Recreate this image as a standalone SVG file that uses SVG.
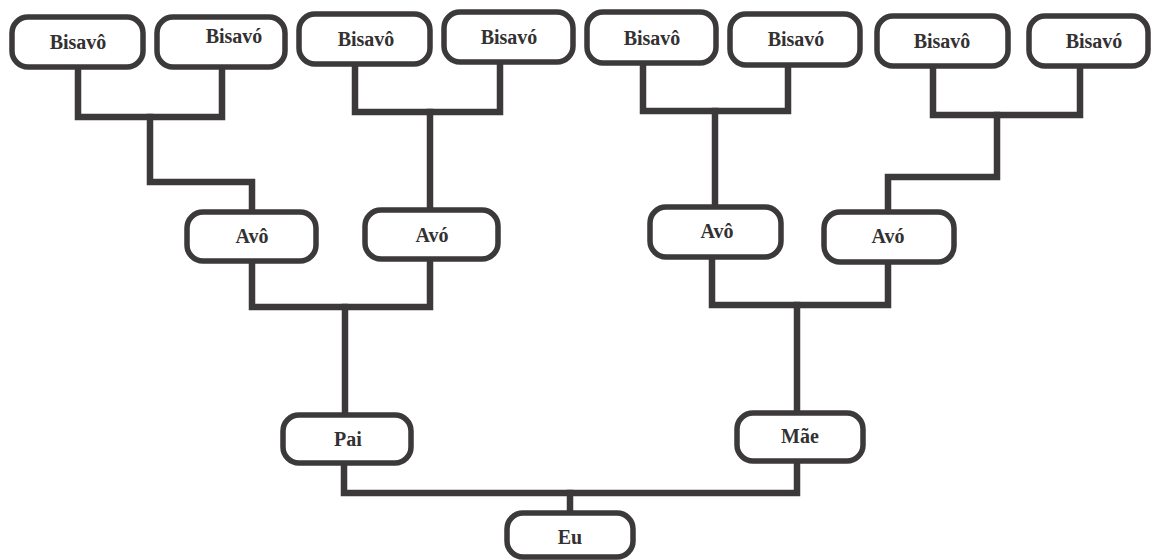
<svg xmlns="http://www.w3.org/2000/svg" width="1152" height="560" viewBox="0 0 1152 560">
<style>
.box{fill:#ffffff;stroke:#3c393a;stroke-width:5.5}
.lbl{font-family:'Liberation Serif','Times New Roman',Times,serif;font-weight:700;font-size:20px;fill:#333132;text-anchor:middle}
.con{fill:none;stroke:#3c393a;stroke-width:6.5;stroke-linejoin:miter;stroke-linecap:square}
</style>
<rect width="1152" height="560" fill="#ffffff"/>
<g id="connectors" class="con">
<path d="M78,68 V117 H222 V68"/>
<path d="M150,117 V182 H252 V210"/>
<path d="M355,65 V112 H500 V63"/>
<path d="M430,112 V208"/>
<path d="M643,64 V111 H788 V66"/>
<path d="M715,111 V205"/>
<path d="M933,67 V115 H1080 V67"/>
<path d="M997,115 V177 H888 V210"/>
<path d="M252,262 V307 H430 V260"/>
<path d="M345,307 V413"/>
<path d="M712,258 V305 H888 V263"/>
<path d="M797,305 V411"/>
<path d="M344,464 V493 H797 V462"/>
<path d="M570,493 V511"/>
</g>
<g font-family="Liberation Serif, serif">
<g id="bisavo1"><rect class="box" x="12" y="17" width="131" height="50" rx="16"/><text class="lbl" x="78" y="49">Bisavô</text></g>
<g id="bisavo2"><rect class="box" x="157" y="17" width="128" height="50" rx="16"/><text class="lbl" x="234" y="43">Bisavó</text></g>
<g id="bisavo3"><rect class="box" x="299" y="14" width="131" height="50" rx="16"/><text class="lbl" x="366" y="46">Bisavô</text></g>
<g id="bisavo4"><rect class="box" x="444" y="12" width="129" height="50" rx="16"/><text class="lbl" x="509" y="44">Bisavó</text></g>
<g id="bisavo5"><rect class="box" x="587" y="12" width="129" height="51" rx="16"/><text class="lbl" x="652" y="45">Bisavô</text></g>
<g id="bisavo6"><rect class="box" x="730" y="14" width="130" height="51" rx="16"/><text class="lbl" x="796" y="46">Bisavó</text></g>
<g id="bisavo7"><rect class="box" x="877" y="16" width="131" height="50" rx="16"/><text class="lbl" x="942" y="48">Bisavô</text></g>
<g id="bisavo8"><rect class="box" x="1029" y="16" width="119" height="50" rx="16"/><text class="lbl" x="1094" y="48">Bisavó</text></g>
<g id="avo1"><rect class="box" x="187" y="212" width="129" height="49" rx="16"/><text class="lbl" x="252" y="243">Avô</text></g>
<g id="avo2"><rect class="box" x="365" y="210" width="133" height="49" rx="16"/><text class="lbl" x="432" y="242">Avó</text></g>
<g id="avo3"><rect class="box" x="650" y="207" width="131" height="50" rx="16"/><text class="lbl" x="717" y="238">Avô</text></g>
<g id="avo4"><rect class="box" x="824" y="212" width="130" height="50" rx="16"/><text class="lbl" x="888" y="243">Avó</text></g>
<g id="pai"><rect class="box" x="283" y="415" width="128" height="48" rx="16"/><text class="lbl" x="348" y="446">Pai</text></g>
<g id="mae"><rect class="box" x="737" y="413" width="126" height="48" rx="16"/><text class="lbl" x="800" y="443">Mãe</text></g>
<g id="eu"><rect class="box" x="507" y="513" width="126" height="44" rx="16"/><text class="lbl" x="570" y="544">Eu</text></g>
</g>
</svg>
